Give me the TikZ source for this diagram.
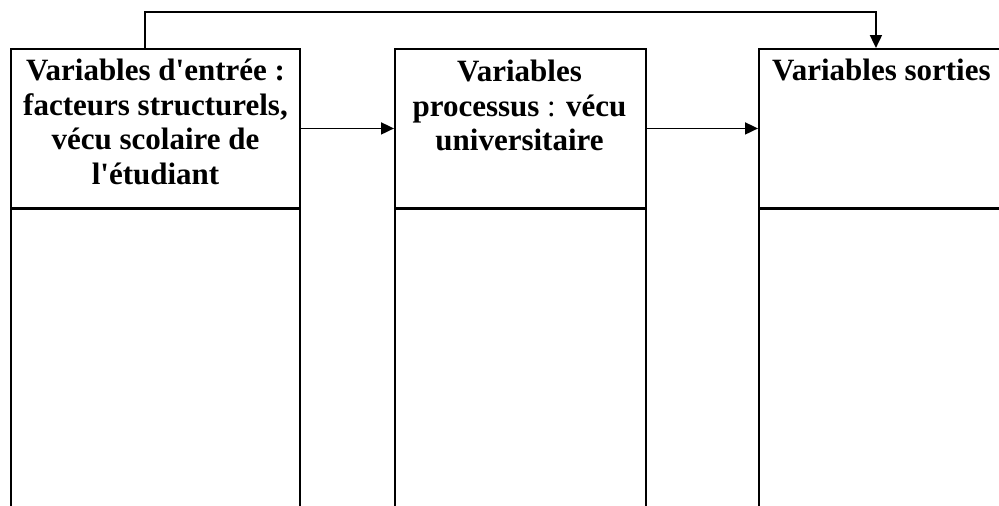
\documentclass[tikz,border=0pt]{standalone}
\usepackage{fontspec}
\setmainfont{Liberation Serif}
\usetikzlibrary{arrows.meta}
\begin{document}
\begin{tikzpicture}[x=1pt,y=-1pt,
  frame/.style={draw,line width=1.9pt,inner sep=0pt,anchor=north west},
  headtext/.style={font=\fontsize{31}{34.5}\selectfont\bfseries, align=center, inner sep=0pt},
  link/.style={line width=1.8pt,-{Triangle[length=13pt,width=12pt]}}
]
\useasboundingbox (0,0) rectangle (999,506);
\clip (0,0) rectangle (999,506);
% left column
\node[frame,minimum width=289pt,minimum height=159pt] (inhead) at (10,48) {};
\node[frame,minimum width=289pt,minimum height=320pt] (inbody) at (10,208) {};
% middle column
\node[frame,minimum width=251pt,minimum height=159pt] (midhead) at (394,48) {};
\node[frame,minimum width=251pt,minimum height=320pt] (midbody) at (394,208) {};
% right column
\node[frame,minimum width=262pt,minimum height=159pt] (outhead) at (758,48) {};
\node[frame,minimum width=262pt,minimum height=320pt] (outbody) at (758,208) {};
% texts
\node[headtext,anchor=north] (intext) at (155.5,59) {Variables d\textquotesingle entrée :\\facteurs structurels,\\vécu scolaire de\\l\textquotesingle étudiant};
\node[headtext,anchor=north] (midtext) at (519.5,60) {Variables\\processus {\mdseries :} vécu\\universitaire};
\node[headtext,anchor=base west] (outtext) at (772,80) {Variables sorties};
% connectors
\draw[link] (inhead.east) -- (midhead.west);
\draw[link] (midhead.east) -- (outhead.west);
\draw[link] ([xshift=-10.5pt]inhead.north) -- ++(0,-36) -| ([xshift=-14pt]outhead.north);
\end{tikzpicture}
\end{document}
